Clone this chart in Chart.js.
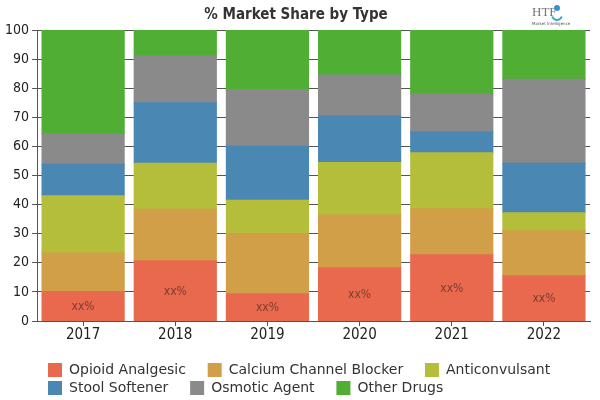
<!DOCTYPE html>
<html>
<head>
<meta charset="utf-8">
<script src="https://cdn.jsdelivr.net/npm/chart.js@4.4.0/dist/chart.umd.min.js"></script>
<style>
  html, body { margin: 0; padding: 0; background: #fff; }
  #wrap { width: 600px; height: 400px; position: relative; }
</style>
</head>
<body>
<div id="wrap"><canvas id="canvas" width="600" height="400"></canvas></div>
<script>
// chart data
var years = ['2017', '2018', '2019', '2020', '2021', '2022'];
var opioidAnalgesic = [10.1, 20.7, 9.3, 18.3, 22.7, 15.5];
var calciumChannelBlocker = [13.2, 17.7, 20.7, 18.1, 15.8, 15.5];
var anticonvulsant = [19.7, 15.8, 11.5, 18.0, 19.3, 6.2];
var stoolSoftener = [10.8, 20.8, 18.5, 16.0, 7.2, 17.0];
var osmoticAgent = [10.5, 16.0, 19.5, 14.1, 13.0, 28.8];
var otherDrugs = [35.7, 9.0, 20.5, 15.5, 22.0, 17.0];
var barLabels = ['xx%', 'xx%', 'xx%', 'xx%', 'xx%', 'xx%'];

// draws the "xx%" text in the middle of the first series
var xxLabels = {
    id: 'xxLabels',
    afterDatasetsDraw: function (chart) {
        var ctx = chart.ctx;
        var meta = chart.getDatasetMeta(0);
        ctx.save();
        ctx.font = '12px "DejaVu Sans Condensed", "DejaVu Sans", sans-serif';
        ctx.fillStyle = '#7d3c2e';
        ctx.textAlign = 'center';
        ctx.textBaseline = 'middle';
        meta.data.forEach(function (bar, i) {
            ctx.fillText(barLabels[i], bar.x, (bar.y + bar.base) / 2 + 1);
        });
        ctx.restore();
    }
};

// legend sits under the plot, left aligned with the bars, 3 items a row
var legendBox = {
    id: 'legendBox',
    afterLayout: function (chart) {
        var lg = chart.legend;
        lg.left = 44;
        lg.right = 592;
        lg.top += 5;
        lg.bottom += 5;
    }
};

// little logo at the top right
var logo = {
    id: 'logo',
    afterDraw: function (chart) {
        var ctx = chart.ctx;
        ctx.save();
        ctx.fillStyle = '#6f7480';
        ctx.font = '13px "Liberation Serif", serif';
        ctx.textAlign = 'left';
        ctx.textBaseline = 'alphabetic';
        ctx.fillText('HTF', 532, 16);
        ctx.fillStyle = '#3a8fd0';
        ctx.beginPath();
        ctx.arc(557, 8, 3, 0, Math.PI * 2);
        ctx.fill();
        ctx.strokeStyle = '#3aa8c8';
        ctx.lineWidth = 2;
        ctx.beginPath();
        ctx.arc(557, 15, 5, 0.1 * Math.PI, 0.9 * Math.PI);
        ctx.stroke();
        ctx.fillStyle = '#555';
        ctx.font = '4px "DejaVu Sans", sans-serif';
        ctx.fillText('Market Intelligence', 532, 25);
        ctx.restore();
    }
};

var axisColor = '#555555';
var fontFamily = '"DejaVu Sans Condensed", "DejaVu Sans", sans-serif';

var ctx = document.getElementById('canvas').getContext('2d');
window.myBar = new Chart(ctx, {
    type: 'bar',
    data: {
        labels: years,
        datasets: [
            { label: 'Opioid Analgesic', backgroundColor: '#e8694e', data: opioidAnalgesic },
            { label: 'Calcium Channel Blocker', backgroundColor: '#d09f47', data: calciumChannelBlocker },
            { label: 'Anticonvulsant', backgroundColor: '#b5be3a', data: anticonvulsant },
            { label: 'Stool Softener', backgroundColor: '#4a88b3', data: stoolSoftener },
            { label: 'Osmotic Agent', backgroundColor: '#8a8a8a', data: osmoticAgent },
            { label: 'Other Drugs', backgroundColor: '#4fae33', data: otherDrugs }
        ]
    },
    options: {
        responsive: false,
        animation: false,
        layout: { padding: { left: 2, right: 10, top: 0, bottom: 0 } },
        datasets: {
            bar: { barPercentage: 0.89, categoryPercentage: 1.0, borderWidth: 0, inflateAmount: 0.6 }
        },
        scales: {
            x: {
                stacked: true,
                border: { display: true, color: axisColor, width: 1 },
                grid: { display: true, drawOnChartArea: false, offset: false, color: axisColor, tickLength: 5 },
                ticks: { color: '#222', font: { family: fontFamily, size: 15 }, padding: 0 },
                afterFit: function (scale) { scale.height = 33; }
            },
            y: {
                stacked: true,
                min: 0,
                max: 100,
                border: { display: true, color: axisColor, width: 1 },
                grid: { display: true, color: axisColor, tickLength: 5 },
                ticks: { stepSize: 10, color: '#222', font: { family: fontFamily, size: 14 }, padding: 3 }
            }
        },
        plugins: {
            title: {
                display: true,
                text: '% Market Share by Type',
                color: '#333',
                font: { family: fontFamily, size: 15, weight: 'bold' },
                padding: { top: 6, bottom: 6 }
            },
            legend: {
                position: 'bottom',
                align: 'start',
                labels: {
                    boxWidth: 14,
                    boxHeight: 14,
                    padding: 4,
                    color: '#333',
                    font: { family: '"DejaVu Sans", sans-serif', size: 14 },
                    generateLabels: function (chart) {
                        var items = Chart.defaults.plugins.legend.labels.generateLabels(chart);
                        items.forEach(function (item) { item.text = item.text + '    '; });
                        return items;
                    }
                }
            },
            tooltip: { enabled: false }
        }
    },
    plugins: [xxLabels, legendBox, logo]
});
</script>
</body>
</html>
